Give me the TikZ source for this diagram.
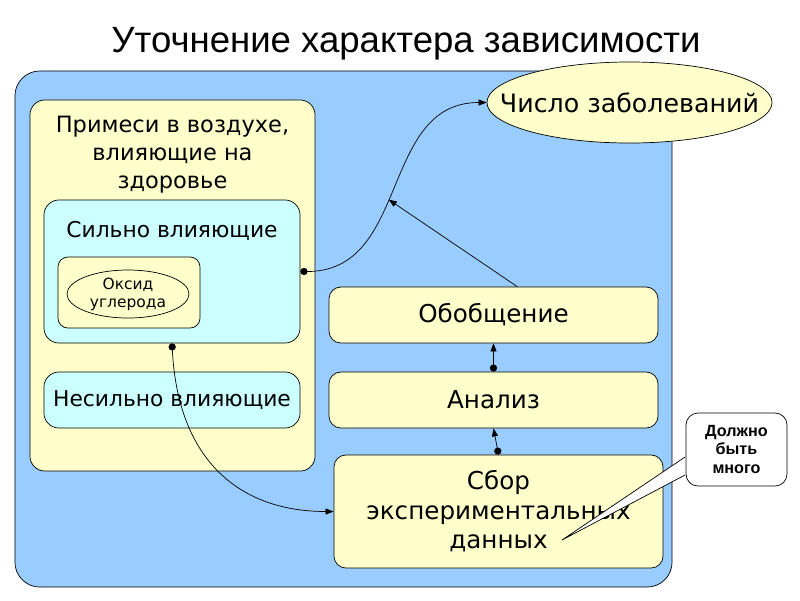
\documentclass[tikz,border=0pt]{standalone}
\usepackage{fontspec}
\setmainfont{DejaVu Sans}
\newfontfamily\notefont{Liberation Sans}
\usetikzlibrary{shapes.geometric, arrows.meta}

\definecolor{skyfill}{RGB}{153,204,255}
\definecolor{creamfill}{RGB}{255,255,204}
\definecolor{icefill}{RGB}{204,255,255}

\begin{document}
\begin{tikzpicture}[
    x=0.025cm, y=-0.025cm,
    panel/.style={rectangle, draw=black, line width=0.5pt, rounded corners=0.375cm, inner sep=0pt},
    stage/.style={rectangle, draw=black, line width=0.5pt, fill=creamfill, rounded corners=0.3cm, minimum width=8.225cm, minimum height=1.4cm, align=center, font=\fontsize{17.5}{21}\selectfont},
    oval/.style={ellipse, draw=black, line width=0.5pt, fill=creamfill, inner sep=0pt},
    note/.style={rectangle, draw=black, line width=0.5pt, fill=white, rounded corners=0.3cm, minimum width=2.525cm, minimum height=1.825cm, align=center, font=\notefont\bfseries\fontsize{11.5}{13.5}\selectfont},
    link/.style={-{Triangle[length=0.2cm, width=0.15cm]}, line width=0.5pt},
    dotlink/.style={arrows={Circle[length=0.18cm]-Triangle[length=0.2cm, width=0.15cm]}, line width=0.5pt}
]
\useasboundingbox (0,0) rectangle (800,600);

% Title
\node[font=\notefont\fontsize{26}{30}\selectfont] (title) at (406,44) {Уточнение характера зависимости};

% Background panel and outcome
\node[panel, fill=skyfill, rounded corners=0.625cm, minimum width=16.425cm, minimum height=12.9cm] (bg) at (343.5,329) {};
\node[oval, minimum width=7.125cm, minimum height=2.025cm, label={[font=\fontsize{18}{22}\selectfont]center:Число заболеваний}] (ill) at (629.5,102.5) {};

% Impurities (left column)
\node[panel, fill=creamfill, minimum width=7.125cm, minimum height=9.275cm, label={[anchor=center, yshift=-1.375cm, align=center, font=\fontsize{16}{20}\selectfont]north:Примеси в воздухе,\\влияющие на\\здоровье}] (air) at (172.5,285.5) {};
\node[panel, fill=icefill, minimum width=6.4cm, minimum height=3.575cm, label={[anchor=center, yshift=-0.775cm, font=\fontsize{15.5}{19}\selectfont]north:Сильно влияющие}] (strong) at (172,271.5) {};
\node[panel, fill=creamfill, rounded corners=0.25cm, minimum width=3.55cm, minimum height=1.775cm] (oxbox) at (129,292.5) {};
\node[oval, minimum width=3.05cm, minimum height=1.2cm, label={[align=center, font=\fontsize{11}{13}\selectfont]center:Оксид\\углерода}] (ox) at (128,294) {};
\node[panel, fill=icefill, minimum width=6.4cm, minimum height=1.4cm, font=\fontsize{15.5}{19}\selectfont] (weak) at (172,400) {Несильно влияющие};

% Research steps (right column)
\node[stage] (gen) at (493.5,315) {Обобщение};
\node[stage] (an) at (493.5,400) {Анализ};
\node[stage, minimum height=2.825cm] (col) at (498.5,511.5) {Сбор\\экспериментальных\\данных};

% Arrows
\draw[dotlink] (strong.east) .. controls +(110,0) and +(-107,0) .. (ill.west) coordinate[pos=0.45] (hit);
\draw[link] (gen.50) -- (hit);
\draw[dotlink] (an.north) -- (gen.south);
\draw[dotlink] (col.north) -- (an.south);
\draw[dotlink] (strong.south) .. controls +(6,117) and +(-94,0) .. (col.west);

% Callout
\node[note] (note) at (736.5,449.5) {Должно\\быть\\много};
\coordinate (tailA) at (685,457);
\coordinate (tailB) at (685,475);
\coordinate (tip) at (562,540);
\fill[white] (tailA) -- (tip) -- (tailB) -- cycle;
\draw[line width=0.5pt] (tailA) -- (tip) -- (tailB);

\end{tikzpicture}
\end{document}
